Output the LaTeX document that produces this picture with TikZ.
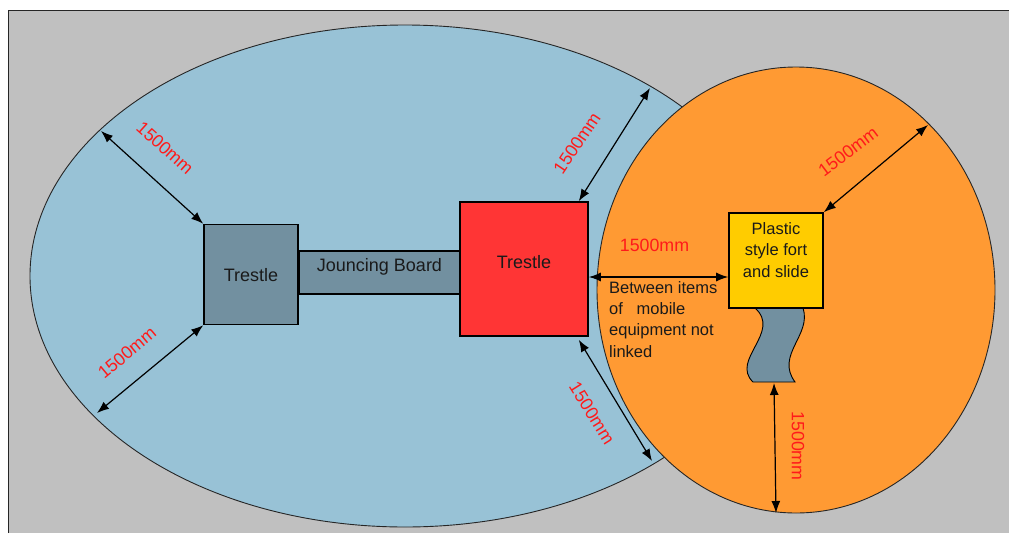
\documentclass[tikz,border=0pt]{standalone}
\usepackage{fontspec}
\setmainfont{Liberation Sans}
\usetikzlibrary{arrows.meta}
\definecolor{bggray}{HTML}{C0C0C0}
\definecolor{zoneblue}{HTML}{98C2D6}
\definecolor{zoneorange}{HTML}{FF9A33}
\definecolor{slate}{HTML}{7290A0}
\definecolor{trestlered}{HTML}{FF3535}
\definecolor{fortyellow}{HTML}{FFCC00}
\definecolor{dimred}{HTML}{FF1A1A}
\definecolor{ink}{HTML}{1A1A1A}
\begin{document}
\begin{tikzpicture}[x=1pt,y=-1pt,
  box/.style={draw=black, line width=1.6pt, inner sep=0pt},
  dimline/.style={line width=1.2pt, arrows={Latex[length=12pt,width=9pt]-Latex[length=12pt,width=9pt]}},
  dimlabel/.style={text=dimred, font=\fontsize{17.8}{20}\selectfont, inner sep=0pt},
  boxtext/.style={text=ink, font=\fontsize{18}{21.5}\selectfont, inner sep=0pt},
  zone/.style={draw=black!85, line width=0.9pt}
]
\useasboundingbox (0,0) rectangle (1009,533);
\fill[white] (0,0) rectangle (1009,533);
\fill[bggray] (8,10) rectangle (1009,533);
\draw[black!85, line width=1pt] (8,533) -- (8,10) -- (1009,10);

% zones
\draw[zone, fill=zoneblue] (405,276) ellipse [x radius=375pt, y radius=251pt];
\draw[zone, fill=zoneorange] (796,290) ellipse [x radius=199pt, y radius=223pt];

% slide
\draw[black, line width=0.9pt, fill=slate]
  (755,308) .. controls (782,332) and (730,360) .. (753,382)
  -- (795,382) .. controls (775,355) and (812,335) .. (803,308) -- cycle;
\coordinate (slidebase) at (774,383);

% equipment
\node[box, fill=slate, minimum width=94pt, minimum height=100pt] (t1) at (251,274.5) {};
\node[boxtext, anchor=base] (t1txt) at (251,281.5) {Trestle};
\node[box, fill=slate, minimum width=161pt, minimum height=43pt] (jb) at (379.5,272.5) {};
\node[boxtext, anchor=base] (jbtxt) at (379.5,271.5) {Jouncing Board};
\node[box, fill=trestlered, minimum width=128pt, minimum height=134pt] (t2) at (524,269) {};
\node[boxtext, anchor=base] (t2txt) at (524,268.3) {Trestle};
\node[box, fill=fortyellow, minimum width=94pt, minimum height=95pt] (fort) at (776,260.5) {};
\node[boxtext, anchor=north, align=center, font=\fontsize{16.5}{21.8}\selectfont] (forttxt) at (776,222) {Plastic\\style fort\\and slide};

% zone edge points
\coordinate (e1) at (101,131);
\coordinate (e2) at (97,413);
\coordinate (e3) at (650,88);
\coordinate (e4) at (652,461);
\coordinate (e6) at (928,125);
\coordinate (e7) at (776,513);

% dimensions
\draw[dimline] (t1.north west) -- (e1);
\node[dimlabel, rotate=-42] (l1) at (165,148) {1500mm};
\draw[dimline] (t1.south west) -- (e2);
\node[dimlabel, rotate=40] (l2) at (127,353) {1500mm};
\draw[dimline] ([xshift=-10pt]t2.north east) -- (e3);
\node[dimlabel, rotate=56] (l3) at (577,143) {1500mm};
\draw[dimline] ([xshift=-10pt,yshift=-3pt]t2.south east) -- (e4);
\node[dimlabel, rotate=-58] (l4) at (592,413) {1500mm};
\draw[dimline] ([yshift=-8pt]t2.east) -- ([yshift=-16.5pt]fort.west);
\node[dimlabel, anchor=base] (l5) at (654.5,251) {1500mm};
\node[boxtext, anchor=north west, align=left, font=\fontsize{16.5}{21.4}\selectfont] (note) at (609,281)
  {Between items\\of\ \ \ mobile\\equipment not\\linked};
\draw[dimline] (fort.north east) -- (e6);
\node[dimlabel, rotate=37] (l6) at (848,152) {1500mm};
\draw[dimline] (slidebase) -- (e7);
\node[dimlabel, rotate=-90] (l7) at (798,446) {1500mm};
\end{tikzpicture}
\end{document}
